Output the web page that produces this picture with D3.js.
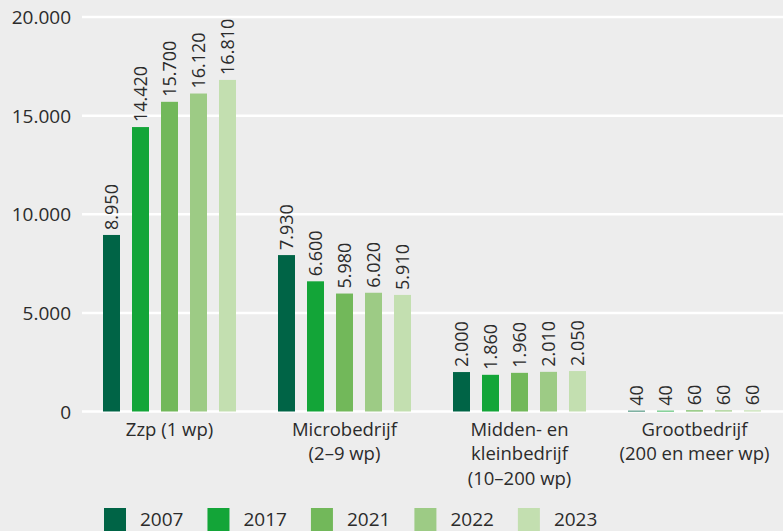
<!DOCTYPE html>
<html><head><meta charset="utf-8">
<script src="https://cdn.jsdelivr.net/npm/d3@7"></script>
<style>
html,body{margin:0;padding:0;background:#ededed;}
svg{display:block;font-family:"Open Sans","Noto Sans",sans-serif;}
</style></head>
<body><svg id="chart" width="783" height="531"></svg>
<script>
const categories = ["Zzp (1 wp)", "Microbedrijf\n(2–9 wp)", "Midden- en\nkleinbedrijf\n(10–200 wp)", "Grootbedrijf\n(200 en meer wp)"];
const years = ["2007", "2017", "2021", "2022", "2023"];
const v2007 = [8950, 7930, 2000, 40];
const v2017 = [14420, 6600, 1860, 40];
const v2021 = [15700, 5980, 1960, 60];
const v2022 = [16120, 6020, 2010, 60];
const v2023 = [16810, 5910, 2050, 60];
const yTicks = [0, 5000, 10000, 15000, 20000];
const colors = ["#006446", "#13a538", "#72b85a", "#9dcb85", "#c3dfb0"];

const series = [v2007, v2017, v2021, v2022, v2023];
const svg = d3.select("#chart");
const textColor = "#2b2b2b";

const x0 = d3.scaleBand().domain(categories).range([82, 782]).paddingInner(0).paddingOuter(0);
const x1 = d3.scaleBand().domain(years).range([0, 133]).paddingInner(0.414).paddingOuter(0);
const groupOffset = (x0.bandwidth() - 133) / 2;
const y = d3.scaleLinear().domain([0, 20000]).range([411.5, 17]);
const fmt = v => d3.format(",")(v).replace(/,/g, ".");

// gridlines
svg.append("g").selectAll("line").data(yTicks).join("line")
  .attr("x1", 82).attr("x2", 783)
  .attr("y1", d => y(d)).attr("y2", d => y(d))
  .attr("stroke", "#ffffff").attr("stroke-width", 2.5);

// y axis labels
const yAxis = d3.axisLeft(y).tickValues(yTicks).tickSize(0).tickPadding(0).tickFormat(fmt);
const ya = svg.append("g").attr("transform", "translate(71,0)").call(yAxis);
ya.select(".domain").remove();
ya.selectAll("text").attr("font-size", 19).attr("fill", textColor)
  .attr("font-family", "'Open Sans','Noto Sans',sans-serif").attr("dy", "0.35em");

// bars
const groups = svg.append("g").selectAll("g").data(categories).join("g")
  .attr("transform", d => `translate(${x0(d) + groupOffset},0)`);
years.forEach((yr, si) => {
  groups.append("rect")
    .attr("x", x1(yr)).attr("width", x1.bandwidth())
    .attr("y", (d, i) => y(series[si][i]))
    .attr("height", (d, i) => y(0) - y(series[si][i]))
    .attr("fill", colors[si]);
  groups.append("text")
    .attr("transform", (d, i) => `translate(${x1(yr) + x1.bandwidth() / 2},${y(series[si][i]) - 5}) rotate(-90)`)
    .attr("dy", "0.36em")
    .attr("font-size", 18).attr("fill", textColor)
    .text((d, i) => fmt(series[si][i]));
});

// category labels
const catG = svg.append("g").selectAll("text").data(categories).join("text")
  .attr("x", d => x0(d) + x0.bandwidth() / 2)
  .attr("y", 435.5)
  .attr("text-anchor", "middle").attr("font-size", 18.5).attr("fill", textColor);
catG.each(function(d) {
  const t = d3.select(this);
  d.split("\n").forEach((line, i) => {
    t.append("tspan").attr("x", x0(d) + x0.bandwidth() / 2).attr("dy", i === 0 ? 0 : 24.5).text(line);
  });
});

// legend
const legend = svg.append("g").attr("transform", "translate(104,508)");
let lx = 0;
years.forEach((yr, i) => {
  const g = legend.append("g").attr("transform", `translate(${lx},0)`);
  g.append("rect").attr("width", 22).attr("height", 23).attr("fill", colors[i]);
  const t = g.append("text").attr("x", 36).attr("y", 17.5).attr("font-size", 19).attr("fill", textColor).text(yr);
  lx += 36 + t.node().getComputedTextLength() + 24;
});
</script>
</body></html>
